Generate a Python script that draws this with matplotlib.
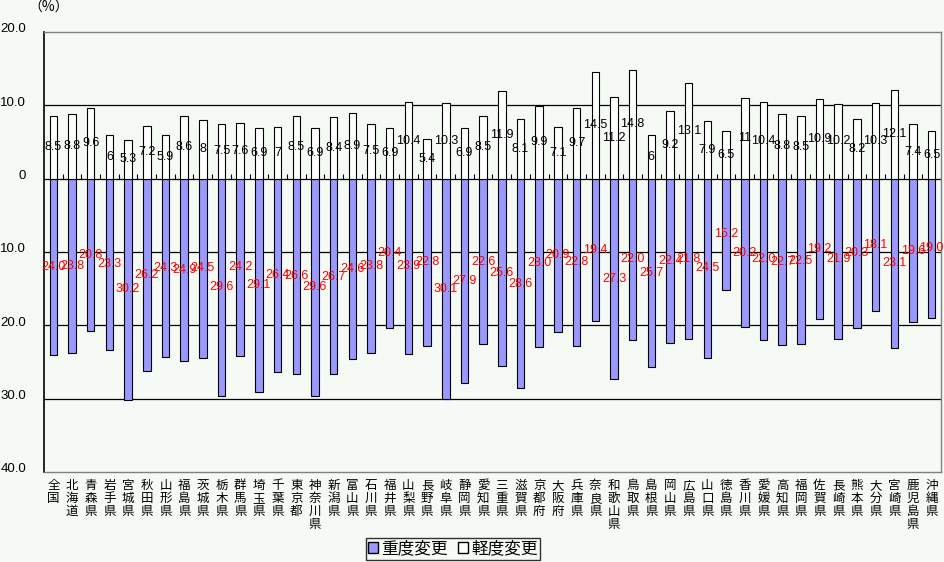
import matplotlib
matplotlib.use("Agg")
import matplotlib.pyplot as plt
from matplotlib.patches import Patch
from matplotlib.transforms import ScaledTranslation
import numpy as np

plt.rcParams['font.family'] = ['Noto Sans CJK JP', 'DejaVu Sans']

categories = ["全国", "北海道", "青森県", "岩手県", "宮城県", "秋田県", "山形県", "福島県",
              "茨城県", "栃木県", "群馬県", "埼玉県", "千葉県", "東京都", "神奈川県", "新潟県",
              "富山県", "石川県", "福井県", "山梨県", "長野県", "岐阜県", "静岡県", "愛知県",
              "三重県", "滋賀県", "京都府", "大阪府", "兵庫県", "奈良県", "和歌山県", "鳥取県",
              "島根県", "岡山県", "広島県", "山口県", "徳島県", "香川県", "愛媛県", "高知県",
              "福岡県", "佐賀県", "長崎県", "熊本県", "大分県", "宮崎県", "鹿児島県", "沖縄県"]

heavy = [24.0, 23.8, 20.8, 23.3, 30.2, 26.2, 24.3, 24.9, 24.5, 29.6, 24.2, 29.1,
         26.4, 26.6, 29.6, 26.7, 24.6, 23.8, 20.4, 23.9, 22.8, 30.1, 27.9, 22.6,
         25.6, 28.6, 23.0, 20.9, 22.8, 19.4, 27.3, 22.0, 25.7, 22.4, 21.8, 24.5,
         15.2, 20.2, 22.0, 22.7, 22.5, 19.2, 21.9, 20.3, 18.1, 23.1, 19.6, 19.0]

light = [8.5, 8.8, 9.6, 6, 5.3, 7.2, 5.9, 8.6, 8, 7.5, 7.6, 6.9,
         7, 8.5, 6.9, 8.4, 8.9, 7.5, 6.9, 10.4, 5.4, 10.3, 6.9, 8.5,
         11.9, 8.1, 9.9, 7.1, 9.7, 14.5, 11.2, 14.8, 6, 9.2, 13.1, 7.9,
         6.5, 11, 10.4, 8.8, 8.5, 10.9, 10.2, 8.2, 10.3, 12.1, 7.4, 6.5]

yticks = [20, 10, 0, -10, -20, -30, -40]
yticklabels = ["20.0", "10.0", "0", "10.0", "20.0", "30.0", "40.0"]

bg = "#F5FAF5"
blue = "#9999FF"

fig = plt.figure(figsize=(9.45, 5.62), dpi=100, facecolor=bg)
ax = fig.add_axes([44/945, 1-472/562, (941-44)/945, (472-32)/562])
ax.set_facecolor(bg)

x = np.arange(len(categories))
w = 0.4
neg = -np.array(heavy)
ax.bar(x, neg, width=w, color=blue, edgecolor="black", linewidth=0.8, zorder=3)
ax.bar(x, light, width=w, color="white", edgecolor="black", linewidth=0.8, zorder=3)

for g in [10, 0, -10, -20, -30]:
    ax.axhline(g, color="black", linewidth=0.9, zorder=1)

# small tick marks on the zero line at category boundaries
ax.vlines(x[:-1] + 0.5, 0, 0.6, color="black", linewidth=0.8, zorder=2)

for xi, v in zip(x, heavy):
    ax.text(xi, -v / 2, f"{v:.1f}", color="red", ha="center", va="center",
            fontsize=9, family="Liberation Sans", zorder=5)
for xi, v in zip(x, light):
    ax.text(xi, v / 2, f"{v:g}", color="black", ha="center", va="center",
            fontsize=9, family="Liberation Sans", zorder=5)

ax.set_xlim(-0.5, len(categories) - 0.5)
ax.set_ylim(-40, 20)
ax.set_yticks(yticks)
ax.set_yticklabels(yticklabels, fontsize=9.5, family="Liberation Sans")
ax.tick_params(axis="y", length=0, pad=13)
for lab in ax.get_yticklabels():
    lab.set_transform(lab.get_transform() + ScaledTranslation(0, 4/100, fig.dpi_scale_trans))

ax.set_xticks(x)
ax.set_xticklabels(["\n".join(c) for c in categories], fontsize=9, linespacing=1.0, va="top")
ax.tick_params(axis="x", length=0, pad=5)

for s in ["top", "right", "bottom"]:
    ax.spines[s].set_color("#808080")
    ax.spines[s].set_linewidth(1.0)
ax.spines["left"].set_color("black")
ax.spines["left"].set_linewidth(1.2)

fig.text(28/945, 1-1/562, "（%）", fontsize=10, ha="left", va="top")

handles = [Patch(facecolor=blue, edgecolor="black", label="重度変更"),
           Patch(facecolor="white", edgecolor="black", label="軽度変更")]
leg = fig.legend(handles=handles, loc="center", bbox_to_anchor=(453/945, 1-549/562), ncol=2,
                 fontsize=12, frameon=True, fancybox=False, edgecolor="black",
                 facecolor=bg, handlelength=0.6, handleheight=0.6, handletextpad=0.2,
                 columnspacing=0.6, borderpad=0.15, borderaxespad=0)
leg.get_frame().set_linewidth(1.0)

fig.savefig("out.png", dpi=100, facecolor=bg)
